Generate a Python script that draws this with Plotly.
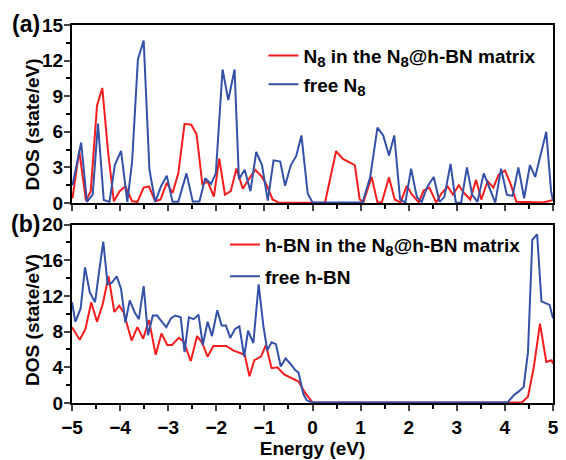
import plotly.graph_objects as go

# ---------------- data: panel (a) N8 DOS ----------------
a_red_x = [-4.99, -4.85, -4.71, -4.61, -4.48, -4.37, -4.25, -4.13, -4.01, -3.89, -3.75, -3.64,
           -3.51, -3.40, -3.27, -3.16, -3.03, -2.91, -2.79, -2.66, -2.52, -2.41, -2.29, -2.18,
           -2.05, -1.94, -1.82, -1.70, -1.58, -1.45, -1.31, -1.19, -1.05, -0.94, -0.83, -0.71,
           0.00, 0.26, 0.49, 0.64, 0.88, 0.98, 1.06, 1.23, 1.35, 1.44, 1.59, 1.71, 1.83, 1.96,
           2.07, 2.21, 2.31, 2.43, 2.57, 2.68, 2.81, 2.92, 3.04, 3.16, 3.28, 3.40, 3.51, 3.64,
           3.76, 3.87, 4.00, 4.11, 4.24, 4.50, 4.80, 5.00]
a_red_y = [0.4, 4.4, 0.2, 1.0, 8.2, 9.7, 4.3, 0.15, 1.0, 1.4, 0.15, 0.1,
           1.3, 1.4, 0.15, 0.3, 1.7, 0.85, 2.5, 6.67, 6.6, 5.8, 1.6, 1.8,
           0.55, 3.75, 0.7, 1.0, 2.9, 1.2, 2.1, 2.8, 2.2, 1.4, 0.3, 0.05,
           0.03, 0.03, 4.36, 3.7, 3.2, 0.3, 0.1, 2.2, 0.05, 0.05, 2.16, 0.3, 0.05, 1.45,
           0.7, 0.05, 1.05, 1.3, 0.05, 0.8, 1.4, 0.7, 1.5, 0.8, 0.3, 1.95, 0.3, 1.85,
           1.3, 2.4, 2.75, 1.7, 0.1, 0.05, 0.05, 0.25]

a_blue_x = [-4.99, -4.81, -4.69, -4.57, -4.46, -4.34, -4.22, -4.11, -3.98, -3.85, -3.75, -3.63,
            -3.51, -3.39, -3.27, -3.15, -3.03, -2.91, -2.79, -2.62, -2.49, -2.35, -2.23, -2.11,
            -2.01, -1.87, -1.75, -1.62, -1.53, -1.41, -1.29, -1.17, -1.05, -0.93, -0.81, -0.67,
            -0.57, -0.45, -0.34, -0.23, -0.10, 0.00, 1.04, 1.20, 1.35, 1.47, 1.59, 1.70, 1.82,
            1.93, 2.05, 2.17, 2.27, 2.39, 2.52, 2.64, 2.74, 2.87, 2.98, 3.09, 3.21, 3.32, 3.43,
            3.56, 3.68, 3.80, 3.92, 4.04, 4.16, 4.28, 4.40, 4.52, 4.63, 4.74, 4.86, 4.96, 5.00]
a_blue_y = [1.5, 5.1, 0.1, 0.7, 6.7, 0.25, 0.1, 3.2, 4.4, 0.1, 3.5, 12.1,
            13.7, 2.8, 0.1, 1.4, 2.3, 0.1, 0.1, 2.5, 0.14, 0.14, 2.1, 1.6,
            2.5, 11.25, 8.67, 11.25, 2.0, 2.8, 1.0, 4.3, 3.2, 0.2, 3.6, 3.5,
            1.45, 3.2, 3.95, 5.7, 0.8, 0.05, 0.05, 2.2, 6.36, 5.7, 4.0, 5.7, 0.33,
            0.03, 2.9, 0.5, 0.1, 1.4, 2.2, 0.1, 0.5, 3.3, 0.03, 0.03, 3.0, 0.7, 0.1,
            2.5, 1.25, 0.03, 2.9, 0.7, 0.6, 3.0, 0.4, 3.2, 2.2, 4.0, 6.0, 1.0, 0.2]

# ---------------- data: panel (b) h-BN DOS ----------------
b_red_x = [-5.00, -4.84, -4.72, -4.60, -4.48, -4.36, -4.24, -4.12, -4.02, -3.93, -3.76, -3.64,
           -3.52, -3.40, -3.26, -3.14, -3.02, -2.92, -2.78, -2.68, -2.53, -2.40, -2.29, -2.18,
           -2.06, -1.89, -1.79, -1.65, -1.41, -1.31, -1.21, -1.07, -0.97, -0.85, -0.73, -0.59,
           -0.45, -0.29, -0.15, 0.00, 4.35, 4.48, 4.60, 4.73, 4.86, 4.97, 5.00]
b_red_y = [8.5, 7.1, 8.3, 11.3, 9.1, 11.1, 14.2, 10.2, 10.9, 10.2, 7.0, 8.5,
           7.2, 9.3, 5.4, 7.8, 6.5, 6.5, 7.3, 6.9, 4.7, 7.5, 6.7, 5.2,
           6.4, 6.4, 6.4, 5.9, 5.4, 3.0, 4.8, 5.2, 6.5, 3.9, 4.0, 3.2,
           2.8, 2.4, 1.1, 0.07, 0.05, 0.7, 4.0, 8.9, 4.6, 4.8, 4.4]

b_blue_x = [-5.00, -4.93, -4.82, -4.73, -4.63, -4.52, -4.44, -4.35, -4.26, -4.17, -4.07, -3.98,
            -3.89, -3.80, -3.70, -3.61, -3.51, -3.42, -3.32, -3.23, -3.13, -3.04, -2.94, -2.85,
            -2.74, -2.66, -2.57, -2.47, -2.37, -2.28, -2.18, -2.09, -1.98, -1.89, -1.80, -1.71,
            -1.61, -1.52, -1.42, -1.34, -1.23, -1.12, -1.02, -0.94, -0.85, -0.76, -0.66, -0.56,
            -0.46, -0.36, -0.29, -0.19, -0.12, 0.00, 4.05, 4.19, 4.29, 4.39, 4.48, 4.57, 4.67,
            4.76, 4.93, 5.00]
b_blue_y = [11.3, 9.1, 10.6, 15.2, 12.4, 11.3, 14.6, 18.1, 13.3, 13.5, 14.2, 12.8,
            9.0, 11.5, 10.2, 9.4, 13.1, 7.6, 9.8, 9.8, 9.1, 8.5, 9.5, 9.8,
            9.6, 5.7, 9.6, 9.4, 9.9, 6.5, 9.1, 7.5, 10.4, 8.7, 8.7, 7.3,
            8.3, 8.6, 5.2, 8.1, 6.7, 13.3, 8.6, 5.9, 6.8, 6.6, 4.1, 5.0,
            4.4, 3.7, 3.4, 1.0, 0.3, 0.05, 0.05, 0.9, 1.3, 1.8, 5.7, 18.3, 18.9,
            11.4, 11.0, 9.5]

x_ticks = [-5, -4, -3, -2, -1, 0, 1, 2, 3, 4, 5]
a_y_ticks = [0, 3, 6, 9, 12, 15]
b_y_ticks = [0, 4, 8, 12, 16, 20]

RED = "#f51c1c"
BLUE = "#3451a8"
FONT = "Liberation Sans"
S8 = "<sub><span style='font-size:15px'>8</span></sub>"

fig = go.Figure()
fig.add_trace(go.Scatter(x=a_red_x, y=a_red_y, mode="lines", line=dict(color=RED, width=2),
                         name=f"N{S8} in the N{S8}@h-BN matrix",
                         xaxis="x", yaxis="y", legend="legend", legendgroup="a1"))
fig.add_trace(go.Scatter(x=a_blue_x, y=a_blue_y, mode="lines", line=dict(color=BLUE, width=2),
                         name=f"free N{S8}",
                         xaxis="x", yaxis="y", legend="legend", legendgroup="a2"))
fig.add_trace(go.Scatter(x=b_red_x, y=b_red_y, mode="lines", line=dict(color=RED, width=2),
                         name=f"h-BN in the N{S8}@h-BN matrix",
                         xaxis="x2", yaxis="y2", legend="legend2", legendgroup="b1"))
fig.add_trace(go.Scatter(x=b_blue_x, y=b_blue_y, mode="lines", line=dict(color=BLUE, width=2),
                         name="free h-BN",
                         xaxis="x2", yaxis="y2", legend="legend2", legendgroup="b2"))

tickfont = dict(family=FONT, size=19, color="black", weight="bold")
titlefont = dict(family=FONT, size=19, color="black", weight="bold")
common_x = dict(range=[-5, 5], tickvals=x_ticks, ticks="outside", ticklen=6, tickwidth=2,
                showline=True, linewidth=2, linecolor="black", mirror=True,
                showgrid=False, zeroline=False, ticklabeloverflow="allow",
                minor=dict(dtick=0.5, tick0=0, ticks="outside", ticklen=4, tickwidth=2, tickcolor="black"))
common_y = dict(ticks="outside", ticklen=6, tickwidth=2, showline=True, linewidth=2,
                linecolor="black", mirror=True, showgrid=False, zeroline=False, tickfont=tickfont,
                ticklabelstandoff=-3)

# page is rendered with an 8px body margin, so the figure is 8px smaller each way
fig.update_layout(
    width=558, height=452,
    margin=dict(l=64, r=7, t=17, b=53),
    paper_bgcolor="white", plot_bgcolor="white",
    font=dict(family=FONT, color="black"),
    xaxis=dict(domain=[0, 1], anchor="y", showticklabels=False, **common_x),
    yaxis=dict(domain=[0.529, 1], anchor="x", range=[0, 15], tickvals=a_y_ticks,
               minor=dict(dtick=1.5, ticks="outside", ticklen=4, tickwidth=2, tickcolor="black"),
               **common_y),
    xaxis2=dict(domain=[0, 1], anchor="y2", showticklabels=True, tickfont=tickfont,
                title=dict(text="Energy (eV)", font=titlefont, standoff=2),
                **common_x),
    yaxis2=dict(domain=[0, 0.472], anchor="x2", range=[0, 20], tickvals=b_y_ticks,
                minor=dict(dtick=2, ticks="outside", ticklen=4, tickwidth=2, tickcolor="black"),
                **common_y),
    legend=dict(x=0.398, y=0.969, xanchor="left", yanchor="top", bgcolor="rgba(0,0,0,0)",
                font=dict(family=FONT, size=19, weight="bold"), tracegroupgap=1,
                itemclick=False),
    legend2=dict(x=0.318, y=0.469, xanchor="left", yanchor="top", bgcolor="rgba(0,0,0,0)",
                 font=dict(family=FONT, size=19, weight="bold"), tracegroupgap=4,
                 itemclick=False),
    showlegend=True,
)

for ytxt in (0.7356, 0.2186):
    fig.add_annotation(text="DOS (state/eV)", xref="paper", yref="paper", x=-0.0821, y=ytxt,
                       xanchor="center", yanchor="middle", textangle=-90, showarrow=False,
                       font=titlefont)

fig.add_annotation(text="(a)", xref="paper", yref="paper", x=-0.0965, y=1.0026,
                   xanchor="center", yanchor="middle", showarrow=False,
                   font=dict(family=FONT, size=23, color="black", weight="bold"))
fig.add_annotation(text="(b)", xref="paper", yref="paper", x=-0.0965, y=0.474,
                   xanchor="center", yanchor="middle", showarrow=False,
                   font=dict(family=FONT, size=23, color="black", weight="bold"))

fig.write_html("out.html")
